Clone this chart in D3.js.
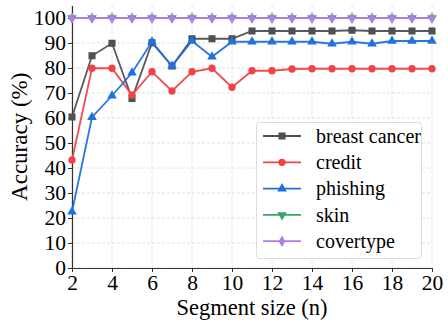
<!DOCTYPE html>
<html>
<head>
<meta charset="utf-8">
<script src="https://cdn.jsdelivr.net/npm/d3@7"></script>
<style>
  body { margin: 0; background: #fff; }
  svg { display: block; }
</style>
</head>
<body>
<svg width="448" height="327"></svg>
<script>
'use strict'

const segmentSizes = [2, 3, 4, 5, 6, 7, 8, 9, 10, 11, 12, 13, 14, 15, 16, 17, 18, 19, 20]
const breastCancer = [60.4, 84.9, 89.9, 67.8, 90.1, 80.8, 91.7, 91.7, 91.7, 94.8, 94.8, 94.8, 94.8, 94.8, 95.1, 94.8, 94.8, 94.8, 94.8]
const credit = [43.2, 79.9, 79.9, 69.2, 78.5, 70.8, 78.5, 79.9, 72.3, 78.9, 78.9, 79.6, 79.7, 79.7, 79.7, 79.7, 79.7, 79.7, 79.7]
const phishing = [22.5, 60.3, 68.9, 78.1, 90.5, 80.8, 90.8, 84.5, 90.5, 90.5, 90.5, 90.5, 90.5, 89.7, 90.5, 89.7, 90.8, 90.8, 90.8]
const skin = [100, 100, 100, 100, 100, 100, 100, 100, 100, 100, 100, 100, 100, 100, 100, 100, 100, 100, 100]
const covertype = [100, 100, 100, 100, 100, 100, 100, 100, 100, 100, 100, 100, 100, 100, 100, 100, 100, 100, 100]
const xTicks = [2, 4, 6, 8, 10, 12, 14, 16, 18, 20]
const yTicks = [0, 10, 20, 30, 40, 50, 60, 70, 80, 90, 100]

const series = [
  { name: 'breast cancer', values: breastCancer, color: '#505050', symbol: d3.symbolSquare, size: 50, rot: 0 },
  { name: 'credit', values: credit, color: '#f04343', symbol: d3.symbolCircle, size: 42, rot: 0 },
  { name: 'phishing', values: phishing, color: '#1f70e0', symbol: d3.symbolTriangle, size: 40, rot: 0 },
  { name: 'skin', values: skin, color: '#33a862', symbol: d3.symbolTriangle, size: 40, rot: 180 },
  { name: 'covertype', values: covertype, color: '#b07ee6', symbol: d3.symbolDiamond, size: 38, rot: 0 }
]

const svg = d3.select('svg')
const font = '"Liberation Serif", "Times New Roman", serif'
const plotLeft = 72
const plotRight = 432
const plotTop = 5.5
const plotBottom = 268

const x = d3.scaleLinear().domain([2, 20]).range([plotLeft, plotRight])
const y = d3.scaleLinear().domain([0, 105]).range([plotBottom, plotTop])

// grid
const grid = svg.append('g')
grid.selectAll('line.gx')
  .data(xTicks)
  .enter().append('line')
  .attr('x1', d => x(d)).attr('x2', d => x(d))
  .attr('y1', plotTop).attr('y2', plotBottom)
  .attr('stroke', '#d8d8d8').attr('stroke-width', 0.8)
  .attr('stroke-dasharray', '3,2')
grid.selectAll('line.gy')
  .data(yTicks)
  .enter().append('line')
  .attr('x1', plotLeft).attr('x2', plotRight)
  .attr('y1', d => y(d)).attr('y2', d => y(d))
  .attr('stroke', '#d8d8d8').attr('stroke-width', 0.8)
  .attr('stroke-dasharray', '3,2')

// axes
const xAxis = svg.append('g')
  .attr('transform', `translate(0,${plotBottom})`)
  .call(d3.axisBottom(x).tickValues(xTicks).tickSize(4).tickPadding(3).tickSizeOuter(0))
const yAxis = svg.append('g')
  .attr('transform', `translate(${plotLeft},0)`)
  .call(d3.axisLeft(y).tickValues(yTicks).tickSize(4).tickPadding(2).tickSizeOuter(0))

;[xAxis, yAxis].forEach(a => {
  a.selectAll('text').attr('font-family', font).attr('font-size', 21.5).attr('fill', '#000')
  a.selectAll('line').attr('stroke', '#333').attr('stroke-width', 1)
  a.select('.domain').attr('stroke', '#333').attr('stroke-width', 1.2)
})

// lines and markers
const line = d3.line()
  .x((d, i) => x(segmentSizes[i]))
  .y(d => y(d))

series.forEach(s => {
  const g = svg.append('g')
  g.append('path')
    .datum(s.values)
    .attr('d', line)
    .attr('fill', 'none')
    .attr('stroke', s.color)
    .attr('stroke-width', 1.8)
    .attr('stroke-opacity', 0.95)
  g.selectAll('path.m')
    .data(s.values)
    .enter().append('path')
    .attr('d', d3.symbol().type(s.symbol).size(s.size))
    .attr('transform', (d, i) => `translate(${x(segmentSizes[i])},${y(d)}) rotate(${s.rot})`)
    .attr('fill', s.color)
})

// legend
const legend = svg.append('g')
legend.append('rect')
  .attr('x', 256.5).attr('y', 122.5)
  .attr('width', 165).attr('height', 136)
  .attr('rx', 3)
  .attr('fill', '#fff').attr('fill-opacity', 0.85)
  .attr('stroke', '#dcdcdc').attr('stroke-width', 1)

series.forEach((s, i) => {
  const ly = 136 + i * 26.3
  legend.append('line')
    .attr('x1', 263).attr('x2', 301)
    .attr('y1', ly).attr('y2', ly)
    .attr('stroke', s.color).attr('stroke-width', 1.8)
  legend.append('path')
    .attr('d', d3.symbol().type(s.symbol).size(s.size))
    .attr('transform', `translate(282,${ly}) rotate(${s.rot})`)
    .attr('fill', s.color)
  legend.append('text')
    .attr('x', 316).attr('y', ly)
    .attr('dy', '0.33em')
    .attr('font-family', font).attr('font-size', 20)
    .text(s.name)
})

// axis titles
svg.append('text')
  .attr('x', (plotLeft + plotRight) / 2).attr('y', 315)
  .attr('text-anchor', 'middle')
  .attr('font-family', font).attr('font-size', 22.5)
  .text('Segment size (n)')
svg.append('text')
  .attr('transform', `translate(27,${(plotTop + plotBottom) / 2}) rotate(-90)`)
  .attr('text-anchor', 'middle')
  .attr('font-family', font).attr('font-size', 23)
  .text('Accuracy (%)')
</script>
</body>
</html>
